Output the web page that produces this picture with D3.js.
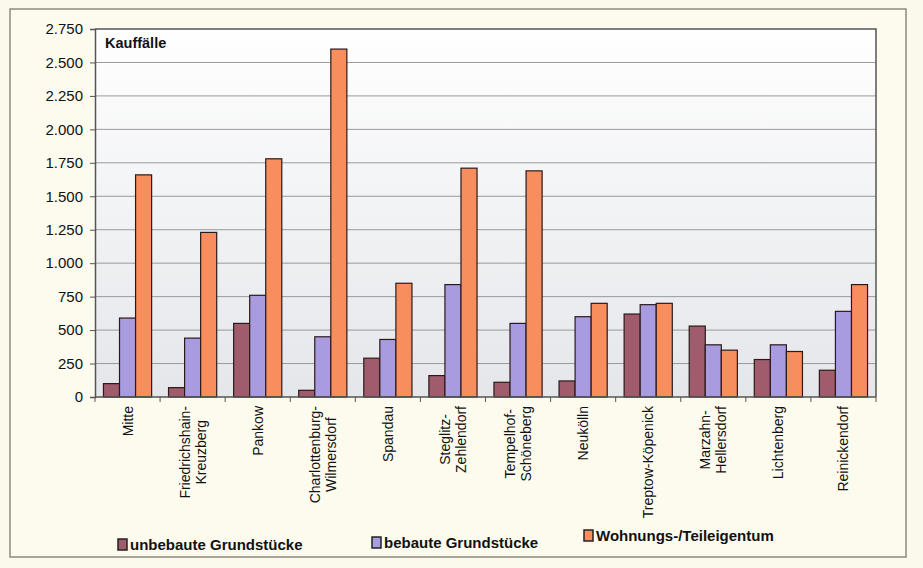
<!DOCTYPE html>
<html>
<head>
<meta charset="utf-8">
<script src="https://cdn.jsdelivr.net/npm/d3@7"></script>
<style>
  body { margin: 0; background: #fbf9ec; }
  svg { display: block; }
  text { font-family: Arial, "Liberation Sans", sans-serif; fill: #111; }
</style>
</head>
<body>
<div id="chart"></div>
<script>
const districts = [
  ['Mitte'], ['Friedrichshain-', 'Kreuzberg'], ['Pankow'], ['Charlottenburg-', 'Wilmersdorf'],
  ['Spandau'], ['Steglitz-', 'Zehlendorf'], ['Tempelhof-', 'Schöneberg'], ['Neukölln'],
  ['Treptow-Köpenick'], ['Marzahn-', 'Hellersdorf'], ['Lichtenberg'], ['Reinickendorf']
];
const unbebaut = [100, 70, 550, 50, 290, 160, 110, 120, 620, 530, 280, 200];
const bebaut = [590, 440, 760, 450, 430, 840, 550, 600, 690, 390, 390, 640];
const wohnung = [1660, 1230, 1780, 2600, 850, 1710, 1690, 700, 700, 350, 340, 840];
const seriesNames = ['unbebaute Grundstücke', 'bebaute Grundstücke', 'Wohnungs-/Teileigentum'];
const seriesColors = ['#a05c6c', '#a99be0', '#f88d5e'];
const yTicks = [0, 250, 500, 750, 1000, 1250, 1500, 1750, 2000, 2250, 2500, 2750];

const width = 923, height = 568;
const margin = { top: 29, right: 47, bottom: 171, left: 95 };
const innerW = width - margin.left - margin.right;
const innerH = height - margin.top - margin.bottom;

const svg = d3.select('#chart').append('svg')
  .attr('width', width)
  .attr('height', height);

// outer frame of the scanned page
svg.append('rect')
  .attr('x', 10).attr('y', 9)
  .attr('width', 896).attr('height', 548)
  .attr('fill', '#fdfbee')
  .attr('stroke', '#8a8a80')
  .attr('stroke-width', 1.5);

const defs = svg.append('defs');
const grad = defs.append('linearGradient')
  .attr('id', 'plotbg')
  .attr('x1', 0).attr('y1', 0).attr('x2', 0).attr('y2', 1);
grad.append('stop').attr('offset', '0%').attr('stop-color', '#ffffff');
grad.append('stop').attr('offset', '100%').attr('stop-color', '#e4e6ea');

const g = svg.append('g')
  .attr('transform', 'translate(' + margin.left + ',' + margin.top + ')');

const x0 = d3.scaleBand()
  .domain(d3.range(districts.length))
  .range([0, innerW])
  .paddingInner(0.26)
  .paddingOuter(0.13);

const x1 = d3.scaleBand()
  .domain(d3.range(seriesNames.length))
  .range([0, x0.bandwidth()]);

const y = d3.scaleLinear()
  .domain([0, 2750])
  .range([innerH, 0]);

g.append('rect')
  .attr('width', innerW)
  .attr('height', innerH)
  .attr('fill', 'url(#plotbg)');

// grid lines
g.append('g')
  .selectAll('line')
  .data(yTicks.filter(t => t > 0 && t < 2750))
  .enter()
  .append('line')
  .attr('x1', 0).attr('x2', innerW)
  .attr('y1', d => y(d)).attr('y2', d => y(d))
  .attr('stroke', '#9a9a9a')
  .attr('stroke-width', 1);

// plot frame (top + right)
g.append('path')
  .attr('d', 'M0,0H' + innerW + 'V' + innerH)
  .attr('fill', 'none')
  .attr('stroke', '#555')
  .attr('stroke-width', 1.5);

// bars
const allSeries = [unbebaut, bebaut, wohnung];
const groups = g.selectAll('.grp')
  .data(districts)
  .enter()
  .append('g')
  .attr('class', 'grp')
  .attr('transform', (d, i) => 'translate(' + x0(i) + ',0)');

groups.selectAll('rect')
  .data((d, i) => allSeries.map((s, k) => ({ k: k, v: s[i] })))
  .enter()
  .append('rect')
  .attr('x', d => x1(d.k))
  .attr('y', d => y(d.v))
  .attr('width', x1.bandwidth())
  .attr('height', d => innerH - y(d.v))
  .attr('fill', d => seriesColors[d.k])
  .attr('stroke', '#2b1a1a')
  .attr('stroke-width', 1.2);

// y axis
const yAxis = g.append('g')
  .call(d3.axisLeft(y)
    .tickValues(yTicks)
    .tickSize(5)
    .tickFormat(d => d3.format(',')(d).replace(/,/g, '.')));
yAxis.select('.domain').attr('stroke', '#555').attr('stroke-width', 1.5);
yAxis.selectAll('line').attr('stroke', '#555');
yAxis.selectAll('text')
  .attr('font-size', '15px')
  .attr('font-family', 'Arial, "Liberation Sans", sans-serif')
  .attr('fill', '#111')
  .attr('x', -12);

// x axis baseline with ticks between categories
const xa = g.append('g').attr('transform', 'translate(0,' + innerH + ')');
xa.append('line')
  .attr('x1', 0).attr('x2', innerW)
  .attr('stroke', '#555').attr('stroke-width', 1.5);
xa.selectAll('.tk')
  .data(d3.range(districts.length + 1))
  .enter()
  .append('line')
  .attr('x1', i => i * innerW / districts.length)
  .attr('x2', i => i * innerW / districts.length)
  .attr('y1', 0).attr('y2', 5)
  .attr('stroke', '#555');

// category labels, rotated
const labels = xa.selectAll('.lbl')
  .data(districts)
  .enter()
  .append('text')
  .attr('class', 'lbl')
  .attr('font-size', '14px')
  .attr('transform', (d, i) => {
    const cx = x0(i) + x0.bandwidth() / 2 + 5 - (d.length - 1) * 8;
    return 'translate(' + cx + ',9) rotate(-90)';
  });
labels.each(function (d) {
  const t = d3.select(this);
  d.forEach((line, j) => {
    t.append('tspan')
      .attr('x', 0)
      .attr('dy', j === 0 ? 0 : 16)
      .attr('text-anchor', 'middle')
      .text(line);
  });
});
// push each label so its longest line ends just below the axis
labels.each(function (d) {
  const t = d3.select(this);
  let maxW = 0;
  t.selectAll('tspan').each(function () {
    maxW = Math.max(maxW, this.getComputedTextLength());
  });
  t.selectAll('tspan').attr('x', -maxW / 2);
});

// inner title
g.append('text')
  .attr('x', 10).attr('y', 19)
  .attr('font-size', '14.5px')
  .attr('font-weight', 'bold')
  .text('Kauffälle');

// legend
const legendPos = [[118, 550], [372, 548], [584, 541]];
const legend = svg.selectAll('.leg')
  .data(seriesNames)
  .enter()
  .append('g')
  .attr('class', 'leg')
  .attr('transform', (d, i) => 'translate(' + legendPos[i][0] + ',' + legendPos[i][1] + ')');
legend.append('rect')
  .attr('x', 0).attr('y', -11)
  .attr('width', 9).attr('height', 11)
  .attr('fill', (d, i) => seriesColors[i])
  .attr('stroke', '#222')
  .attr('stroke-width', 1.5);
legend.append('text')
  .attr('x', 12)
  .attr('font-size', '15px')
  .attr('font-weight', 'bold')
  .attr('font-family', '"Liberation Sans Narrow", "Arial Narrow", Arial, sans-serif')
  .text(d => d);
</script>
</body>
</html>
